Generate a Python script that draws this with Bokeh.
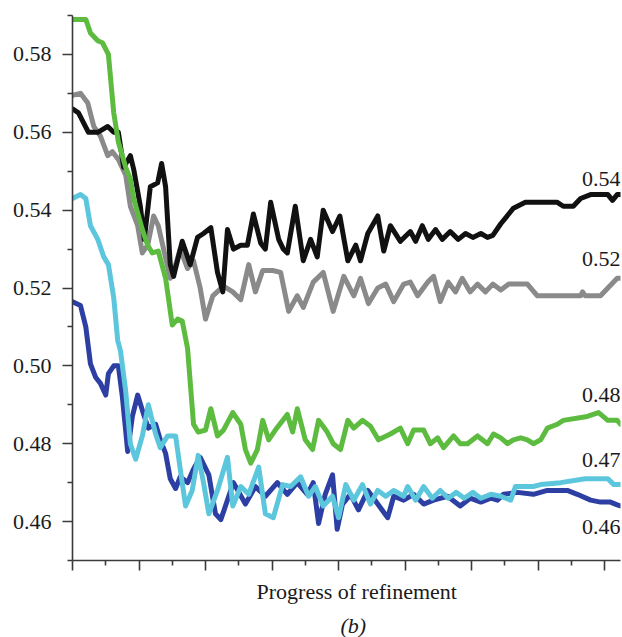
from bokeh.plotting import figure
from bokeh.models import FixedTicker, PrintfTickFormatter, Label, Title
from bokeh.embed import file_html
from bokeh.resources import INLINE

# ---- data (progress of refinement, R value) ----
black_x = [0, 0.9, 2.4, 3.8, 5.3, 6.2, 6.9, 7.7, 8.7, 9.2, 10.2, 10.8, 11.7, 12.8, 13.4, 14.0, 14.7, 15.2, 16.5, 17.7,
           18.8, 19.7, 20.8, 21.8, 22.6, 23.3, 24.2, 25.3, 26.3, 27.2, 28.3, 29.0, 29.8, 31.0, 31.7, 32.3, 33.5, 34.7, 35.8, 36.8,
           37.7, 39.1, 40.2, 41.4, 42.6, 43.3, 44.4, 45.9, 46.8, 47.8, 49.3, 50.8, 51.6, 52.6, 53.5, 54.6, 55.6, 56.8, 58.0, 59.1,
           60.2, 61.4, 62.4, 63.2, 64.4, 66.3, 68.1, 72.9, 73.8, 75.3, 76.4, 77.9, 80.5, 81.2, 81.9, 82.4]
black_y = [0.566, 0.565, 0.560, 0.560, 0.5615, 0.560, 0.560, 0.551, 0.554, 0.5505, 0.541, 0.5325, 0.546, 0.547, 0.552, 0.546, 0.526, 0.523, 0.532, 0.526,
           0.533, 0.534, 0.5355, 0.524, 0.519, 0.535, 0.530, 0.531, 0.531, 0.539, 0.5315, 0.530, 0.542, 0.5325, 0.530, 0.529, 0.541, 0.527, 0.5325, 0.528,
           0.540, 0.5345, 0.5385, 0.527, 0.531, 0.527, 0.534, 0.5385, 0.5295, 0.536, 0.532, 0.5345, 0.532, 0.536, 0.5325, 0.535, 0.5325, 0.5345, 0.5325, 0.534,
           0.533, 0.534, 0.533, 0.5335, 0.5365, 0.5405, 0.542, 0.542, 0.541, 0.541, 0.543, 0.544, 0.544, 0.5425, 0.544, 0.544]

gray_x = [0, 1.2, 2.3, 3.2, 4.2, 5.3, 6.0, 6.9, 8.0, 8.7, 9.8, 10.5, 11.3, 12.2, 12.9, 13.7, 14.7, 15.5, 16.2, 17.3,
          18.2, 19.2, 20.0, 21.1, 22.7, 24.1, 25.3, 26.5, 27.5, 28.6, 30.1, 31.3, 32.5, 33.8, 34.7, 36.2, 37.7, 39.2, 40.8, 42.3,
          43.3, 44.5, 45.9, 47.1, 48.3, 49.8, 50.8, 51.9, 53.4, 54.3, 55.3, 56.5, 57.6, 58.6, 59.8, 60.9, 62.1, 63.2, 64.4, 65.6,
          67.4, 68.4, 69.9, 76.4, 76.7, 77.1, 79.4, 80.5, 81.9, 82.4]
gray_y = [0.5695, 0.570, 0.5675, 0.5615, 0.559, 0.554, 0.555, 0.553, 0.549, 0.541, 0.536, 0.529, 0.531, 0.5385, 0.536, 0.530, 0.5225, 0.526, 0.530, 0.525,
          0.527, 0.520, 0.512, 0.518, 0.5205, 0.519, 0.517, 0.526, 0.519, 0.5245, 0.5245, 0.524, 0.514, 0.518, 0.515, 0.5215, 0.524, 0.514, 0.523, 0.518,
          0.5225, 0.516, 0.520, 0.521, 0.5165, 0.521, 0.5215, 0.518, 0.5215, 0.523, 0.5165, 0.5215, 0.519, 0.5225, 0.519, 0.521, 0.519, 0.521, 0.5195, 0.521,
          0.521, 0.521, 0.518, 0.518, 0.519, 0.518, 0.518, 0.520, 0.5225, 0.5225]

green_x = [0, 2.0, 2.7, 3.8, 4.5, 5.4, 6.2, 6.9, 8.0, 8.7, 9.2, 10.5, 11.3, 12.0, 12.9, 14.0, 15.0, 15.8, 16.5, 17.3,
           18.2, 18.9, 20.0, 20.8, 21.8, 22.7, 24.1, 25.3, 26.0, 26.8, 27.8, 28.6, 29.5, 30.5, 32.3, 33.1, 33.8, 35.0, 36.1, 37.0,
           38.3, 39.2, 40.3, 41.4, 42.3, 43.6, 44.8, 46.0, 47.8, 49.3, 50.4, 51.3, 52.8, 53.8, 54.9, 55.8, 57.3, 58.3, 59.4, 60.9,
           62.4, 63.3, 64.4, 65.4, 66.3, 67.4, 68.4, 69.3, 70.4, 71.4, 72.9, 73.8, 77.4, 79.1, 80.5, 81.9, 82.4]
green_y = [0.589, 0.589, 0.5855, 0.5835, 0.583, 0.580, 0.565, 0.5575, 0.551, 0.548, 0.543, 0.535, 0.531, 0.529, 0.5295, 0.5225, 0.5105, 0.512, 0.5115, 0.5045,
           0.485, 0.483, 0.4835, 0.489, 0.482, 0.4835, 0.488, 0.485, 0.4785, 0.475, 0.4785, 0.486, 0.481, 0.4835, 0.4875, 0.483, 0.489, 0.481, 0.4785, 0.486,
           0.483, 0.480, 0.4785, 0.486, 0.484, 0.486, 0.4845, 0.481, 0.4825, 0.484, 0.480, 0.4835, 0.4835, 0.480, 0.4815, 0.479, 0.482, 0.480, 0.480, 0.482,
           0.480, 0.4825, 0.4815, 0.480, 0.481, 0.4815, 0.481, 0.480, 0.481, 0.484, 0.485, 0.486, 0.487, 0.488, 0.486, 0.486, 0.485]

cyan_x = [0, 1.2, 2.0, 2.7, 3.8, 4.7, 5.4, 6.2, 6.8, 7.2, 8.0, 8.7, 9.5, 10.5, 11.4, 12.5, 13.2, 14.3, 15.5, 16.2,
          17.0, 18.0, 18.9, 19.7, 20.5, 21.8, 23.3, 24.1, 25.3, 26.5, 28.0, 29.0, 30.2, 31.6, 32.8, 34.3, 35.5, 36.5, 37.7, 39.1,
          40.0, 41.1, 42.3, 43.6, 44.8, 45.9, 47.1, 48.3, 49.8, 50.4, 51.6, 52.8, 54.1, 55.3, 56.5, 57.7, 58.9, 60.2, 61.4, 62.9,
          64.4, 65.9, 66.6, 69.3, 70.4, 73.4, 77.1, 80.5, 81.4, 82.4]
cyan_y = [0.543, 0.544, 0.543, 0.536, 0.5325, 0.528, 0.526, 0.5175, 0.5065, 0.504, 0.4935, 0.480, 0.476, 0.482, 0.490, 0.4825, 0.479, 0.482, 0.482, 0.4735,
          0.464, 0.468, 0.477, 0.470, 0.462, 0.468, 0.4765, 0.464, 0.469, 0.467, 0.474, 0.462, 0.461, 0.4695, 0.469, 0.4715, 0.4665, 0.469, 0.464, 0.4665,
          0.461, 0.4695, 0.4655, 0.4695, 0.4645, 0.468, 0.4665, 0.468, 0.4665, 0.469, 0.4655, 0.469, 0.466, 0.468, 0.466, 0.4675, 0.466, 0.4675, 0.466, 0.467,
          0.4665, 0.4655, 0.469, 0.469, 0.4695, 0.470, 0.471, 0.471, 0.4695, 0.4695]

blue_x = [0, 1.2, 2.0, 2.7, 3.5, 4.2, 5.0, 5.4, 6.2, 6.9, 7.5, 8.3, 9.0, 9.8, 10.7, 11.4, 12.5, 13.2, 14.0, 14.7,
          15.5, 16.2, 17.3, 18.2, 19.2, 20.5, 21.5, 22.3, 23.3, 24.2, 26.0, 27.5, 29.0, 30.8, 32.3, 33.8, 35.3, 36.2, 37.0, 38.0,
          39.1, 39.8, 40.6, 41.8, 43.0, 44.4, 45.9, 47.4, 48.3, 49.8, 51.3, 52.8, 54.3, 56.4, 58.3, 59.8, 61.4, 62.9, 63.9, 64.8,
          66.9, 69.3, 71.4, 74.4, 75.9, 77.9, 79.4, 80.9, 81.9, 82.4]
blue_y = [0.5165, 0.5155, 0.510, 0.5005, 0.497, 0.4955, 0.4925, 0.498, 0.500, 0.500, 0.492, 0.478, 0.487, 0.4925, 0.4875, 0.484, 0.485, 0.481, 0.4775, 0.471,
          0.4685, 0.4715, 0.470, 0.4735, 0.4765, 0.472, 0.462, 0.4605, 0.4655, 0.470, 0.4645, 0.469, 0.4665, 0.470, 0.467, 0.470, 0.467, 0.470, 0.4595, 0.467,
          0.472, 0.458, 0.4645, 0.467, 0.463, 0.468, 0.4645, 0.461, 0.4665, 0.4655, 0.467, 0.4645, 0.4655, 0.4665, 0.464, 0.466, 0.465, 0.466, 0.4655, 0.467,
          0.4675, 0.467, 0.468, 0.468, 0.467, 0.4655, 0.465, 0.465, 0.4643, 0.464]

end_labels = ["0.54", "0.52", "0.48", "0.47", "0.46"]
y_major = [0.46, 0.48, 0.50, 0.52, 0.54, 0.56, 0.58]
y_minor = [0.45, 0.47, 0.49, 0.51, 0.53, 0.55, 0.57, 0.59]
x_major = [0, 10, 20, 30, 40, 50, 60, 70, 80]
x_minor = [5, 15, 25, 35, 45, 55, 65, 75]
x_title = "Progress of refinement"
panel_tag = "(b)"

FONT = "Liberation Serif"
FS = "22px"
TXT = "#1a1a1a"
AX = "#3a3a3a"

p = figure(width=622, height=637, output_backend="svg", toolbar_location=None,
           x_range=(0, 82.4), y_range=(0.45, 0.59),
           min_border_left=72, min_border_right=2, min_border_top=15, min_border_bottom=60)
p.outline_line_color = None
p.grid.visible = False
p.background_fill_color = "white"
p.border_fill_color = "white"

series = [
    (gray_x, gray_y, "#8a8a8a"),
    (black_x, black_y, "#111111"),
    (green_x, green_y, "#5dbb3f"),
    (blue_x, blue_y, "#2d3fa3"),
    (cyan_x, cyan_y, "#5cc6dc"),
]
for xs, ys, c in series:
    p.line(xs, ys, line_color=c, line_width=5, line_join="round", line_cap="round")

# axes
p.yaxis.ticker = FixedTicker(ticks=y_major, minor_ticks=y_minor)
p.yaxis.formatter = PrintfTickFormatter(format="%.2f")
p.xaxis.ticker = FixedTicker(ticks=x_major, minor_ticks=x_minor)
p.xaxis.major_label_text_font_size = "2px"
p.xaxis.major_label_text_color = None
p.xaxis.major_label_standoff = 0
for ax in (p.xaxis[0], p.yaxis[0]):
    ax.axis_line_color = AX
    ax.axis_line_width = 1.6
    ax.major_tick_line_color = AX
    ax.minor_tick_line_color = AX
    ax.major_tick_line_width = 1.6
    ax.minor_tick_line_width = 1.6
    ax.major_tick_in = 0
    ax.minor_tick_in = 0
    ax.major_tick_out = 10
    ax.minor_tick_out = 5
    ax.major_label_text_font = FONT
p.yaxis.major_label_text_color = TXT
p.yaxis.major_label_text_font_size = FS
p.yaxis.major_label_standoff = 11

# end-of-line value labels
label_pos = [0.5479, 0.5275, 0.4926, 0.4758, 0.4587]
for t, yv in zip(end_labels, label_pos):
    p.add_layout(Label(x=82.4, y=yv, text=t, text_align="right", text_baseline="middle",
                       text_font=FONT, text_font_size=FS, text_color=TXT))

# x title and panel letter, stacked below the axis
p.add_layout(Title(text=x_title, align="left", offset=184, standoff=13,
                   text_font=FONT, text_font_size=FS, text_font_style="normal",
                   text_color=TXT), "below")
p.add_layout(Title(text=panel_tag, align="left", offset=268, standoff=0,
                   text_font=FONT, text_font_size=FS, text_font_style="italic",
                   text_color=TXT), "below")

open("out.html", "w").write(file_html(p, INLINE))
